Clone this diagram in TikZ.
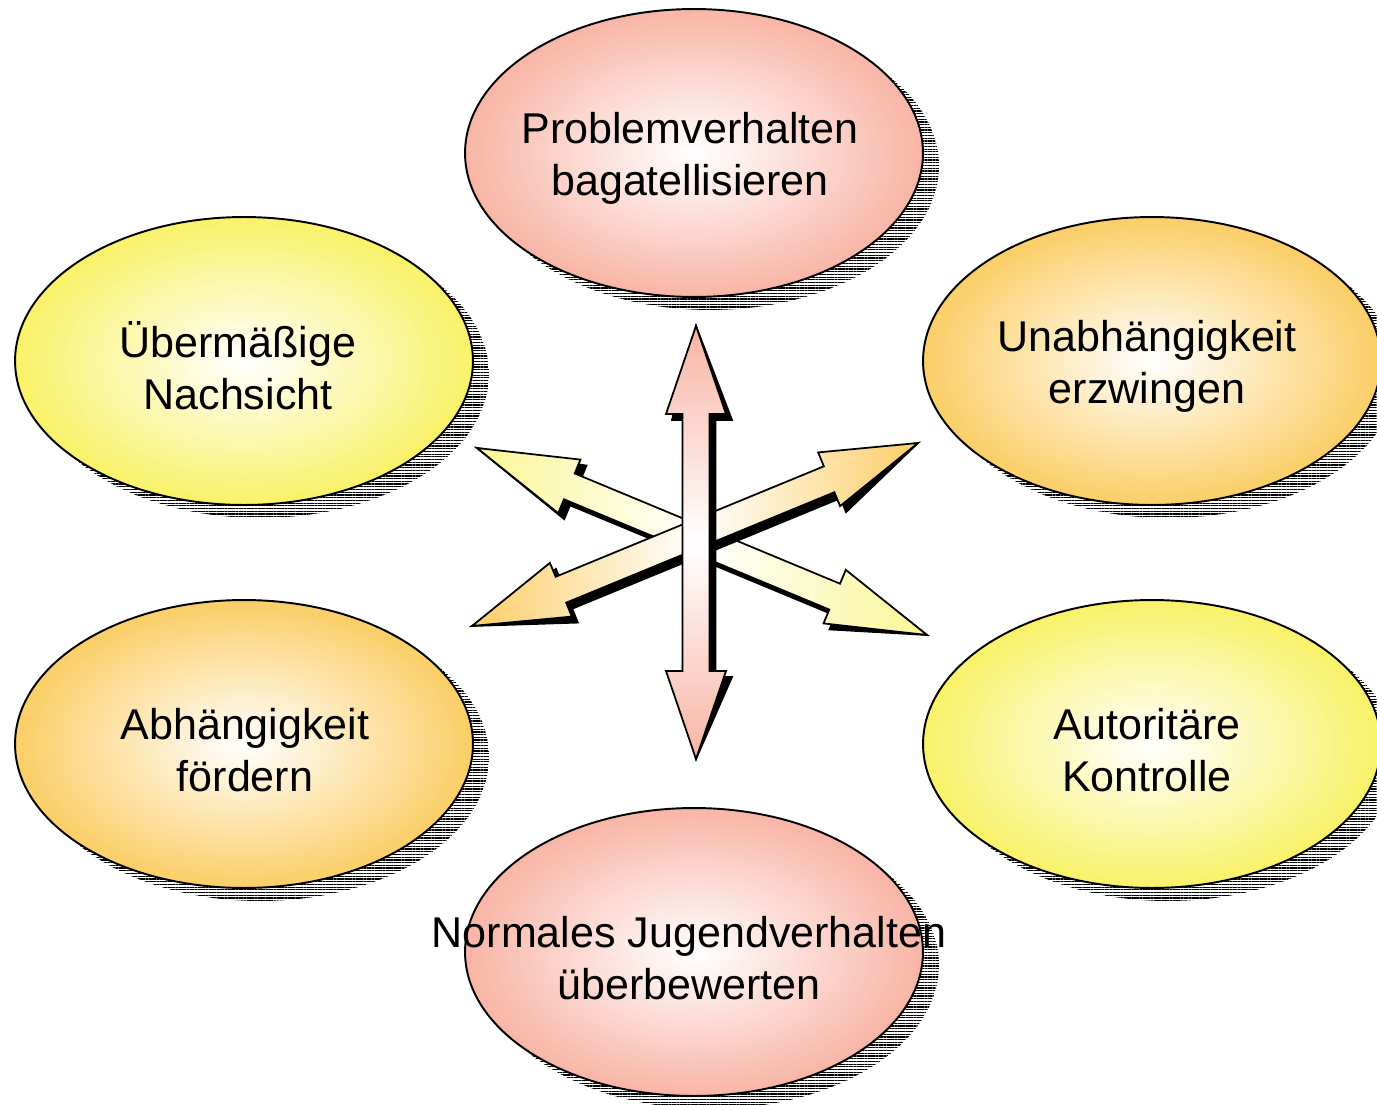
\documentclass[tikz,border=0pt]{standalone}
\usepackage{fontspec}
\setmainfont{Liberation Sans}
\usetikzlibrary{shapes.geometric,patterns.meta}
\definecolor{cpink}{RGB}{248,178,162}
\definecolor{cyel}{RGB}{249,241,98}
\definecolor{corange}{RGB}{251,204,96}
\definecolor{apink}{RGB}{248,180,164}
\definecolor{ayel}{RGB}{250,246,150}
\definecolor{aorange}{RGB}{251,206,104}
\pgfdeclareradialshading{radpink}{\pgfpoint{0bp}{0bp}}{color(0bp)=(white);color(26bp)=(cpink);color(50bp)=(cpink)}
\pgfdeclareradialshading{radyel}{\pgfpoint{0bp}{0bp}}{color(0bp)=(white);color(26bp)=(cyel);color(50bp)=(cyel)}
\pgfdeclareradialshading{radorange}{\pgfpoint{0bp}{0bp}}{color(0bp)=(white);color(26bp)=(corange);color(50bp)=(corange)}
\tikzset{
  ell/.style={ellipse, draw=black, line width=1.1pt, minimum width=9.16cm, minimum height=5.76cm, inner sep=0pt},
  hatchshadow/.style={ellipse, draw=none, minimum width=9.16cm, minimum height=5.76cm, inner sep=0pt,
    pattern={Lines[angle=0,distance=1.55pt,line width=0.7pt]}, pattern color=black},
  lbl/.style={font=\fontsize{24.5}{29.5}\selectfont, align=center, text=black, inner sep=0pt},
  blockarrow/.style={draw=black, line width=1pt, line join=miter},
  arrowshadow/.style={fill=black, draw=black, line width=1pt, shift={(6,6)}}
}
\begin{document}
\begin{tikzpicture}[x=0.02cm, y=-0.02cm]
\useasboundingbox (0,0) rectangle (1377,1105);
\clip (0,0) rectangle (1377,1105);
% shadows of ellipses
\node[hatchshadow] (s-top) at (710,166) {};
\node[hatchshadow] (s-ul)  at (260,374) {};
\node[hatchshadow] (s-ur)  at (1168,374) {};
\node[hatchshadow] (s-ll)  at (260,757) {};
\node[hatchshadow] (s-lr)  at (1168,757) {};
\node[hatchshadow] (s-bot) at (710,965) {};
% ellipses
\node[ell, shading=radpink]   (top) at (694,153) {};
\node[ell, shading=radyel]    (ul)  at (244,361) {};
\node[ell, shading=radorange] (ur)  at (1152,361) {};
\node[ell, shading=radorange] (ll)  at (244,744) {};
\node[ell, shading=radyel]    (lr)  at (1152,744) {};
\node[ell, shading=radpink]   (bot) at (694,952) {};
% labels
\node[lbl] (top-l) at (690,158) {Problemverhalten\\bagatellisieren};
\node[lbl] (ul-l)  at (238,366) {Übermäßige\\Nachsicht};
\node[lbl] (ur-l)  at (1147,366) {Unabhängigkeit\\erzwingen};
\node[lbl] (ll-l)  at (245,750) {Abhängigkeit\\fördern};
\node[lbl] (lr-l)  at (1147,750) {Autoritäre\\Kontrolle};
\node[lbl] (bot-l) at (689,958) {Normales Jugendverhalten\\überbewerten};
% yellow double arrow
\coordinate (ya) at (477,448);
\coordinate (yb) at (927,635);
\fill[arrowshadow] (ya) -- (580.47,459.59) -- (574.71,473.44) -- (840.03,583.70) -- (845.79,569.85) -- (yb) -- (823.53,623.41) -- (829.29,609.56) -- (563.97,499.30) -- (558.21,513.15) -- cycle;
\path[blockarrow, left color=ayel, right color=ayel, middle color=white]
  (ya) -- (580.47,459.59) -- (574.71,473.44) -- (840.03,583.70) -- (845.79,569.85) -- (yb) -- (823.53,623.41) -- (829.29,609.56) -- (563.97,499.30) -- (558.21,513.15) -- cycle;
% orange double arrow
\coordinate (oa) at (472,626);
\coordinate (ob) at (918,443);
\fill[arrowshadow] (oa) -- (549.93,562.88) -- (555.60,576.77) -- (823.82,466.31) -- (818.15,452.42) -- (ob) -- (840.07,506.12) -- (834.40,492.23) -- (566.18,602.69) -- (571.85,616.58) -- cycle;
\path[blockarrow, left color=aorange, right color=aorange, middle color=white]
  (oa) -- (549.93,562.88) -- (555.60,576.77) -- (823.82,466.31) -- (818.15,452.42) -- (ob) -- (840.07,506.12) -- (834.40,492.23) -- (566.18,602.69) -- (571.85,616.58) -- cycle;
% pink vertical double arrow
\coordinate (pa) at (696,326);
\coordinate (pb) at (696,759);
\fill[arrowshadow] (pa) -- (726,414) -- (709.5,414) -- (709.5,671) -- (726,671) -- (pb) -- (666,671) -- (682.5,671) -- (682.5,414) -- (666,414) -- cycle;
\path[blockarrow, top color=apink, bottom color=apink, middle color=white]
  (pa) -- (726,414) -- (709.5,414) -- (709.5,671) -- (726,671) -- (pb) -- (666,671) -- (682.5,671) -- (682.5,414) -- (666,414) -- cycle;
\end{tikzpicture}
\end{document}
